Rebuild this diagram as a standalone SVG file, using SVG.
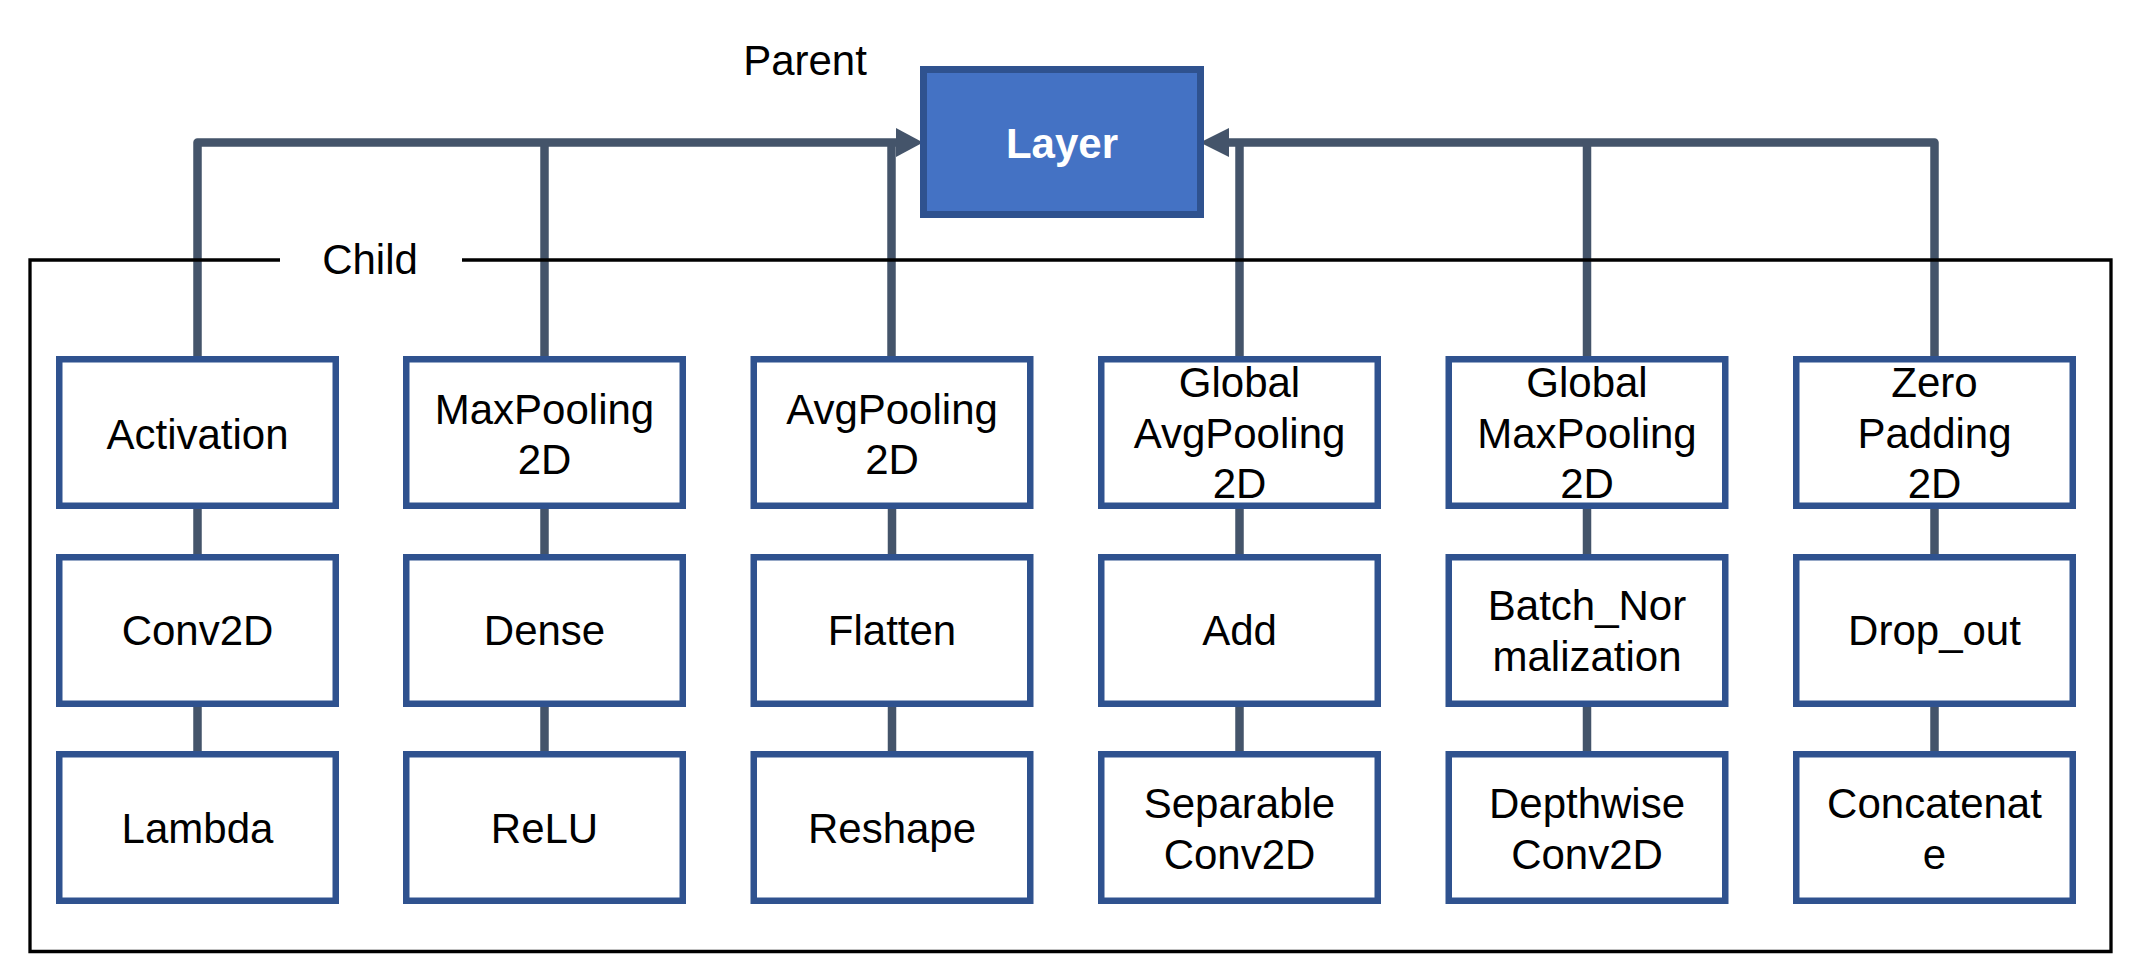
<svg xmlns="http://www.w3.org/2000/svg" width="2138" height="960" viewBox="0 0 2138 960">
<style>
.conn{fill:none;stroke:#44546A;stroke-width:8.5;stroke-linejoin:round}
.head{fill:#44546A}
.frame{fill:none;stroke:#000;stroke-width:3.3}
.box{fill:#fff;stroke:#2F528F;stroke-width:6.5}
.lbl{font-family:"Liberation Sans",Arial,sans-serif;font-size:42px;fill:#000;text-anchor:middle}
.root{fill:#4472C4;stroke:#2F528F;stroke-width:7}
.rootlbl{font-family:"Liberation Sans",Arial,sans-serif;font-size:42px;font-weight:bold;fill:#fff;text-anchor:middle}
</style>
<rect width="2138" height="960" fill="#fff"/>
<g id="connectors">
<path class="conn" d="M197.5 356 V142.5 H900"/>
<path class="conn" d="M544.5 356 V142.5"/>
<path class="conn" d="M891.5 356 V146"/>
<polygon class="head" points="923,142.5 896,128 896,157"/>
<path class="conn" d="M1934.5 356 V142.5 H1225"/>
<path class="conn" d="M1239.5 356 V146"/>
<path class="conn" d="M1587 356 V142.5"/>
<polygon class="head" points="1200,142.5 1229,128 1229,157"/>
<path class="conn" d="M197.5 509 V554 M197.5 707 V751"/>
<path class="conn" d="M544.5 509 V554 M544.5 707 V751"/>
<path class="conn" d="M892 509 V554 M892 707 V751"/>
<path class="conn" d="M1239.5 509 V554 M1239.5 707 V751"/>
<path class="conn" d="M1587 509 V554 M1587 707 V751"/>
<path class="conn" d="M1934.5 509 V554 M1934.5 707 V751"/>
</g>
<g id="frame">
<path class="frame" d="M280 260 H30 V951.5 H2111 V260 H462"/>
<text class="lbl" x="370" y="274">Child</text>
<text class="lbl" x="805" y="75">Parent</text>
</g>
<g id="layer">
<rect class="root" x="923.5" y="69.5" width="277" height="145"/>
<text class="rootlbl" x="1062" y="158">Layer</text>
</g>
<g id="activation"><rect class="box" x="59.25" y="359.25" width="276.5" height="146.5"/><text class="lbl" x="197.5" y="449">Activation</text></g>
<g id="conv2d"><rect class="box" x="59.25" y="557.25" width="276.5" height="146.5"/><text class="lbl" x="197.5" y="645">Conv2D</text></g>
<g id="lambda"><rect class="box" x="59.25" y="754.25" width="276.5" height="146.5"/><text class="lbl" x="197.5" y="843">Lambda</text></g>

<g id="maxpooling2d"><rect class="box" x="406.25" y="359.25" width="276.5" height="146.5"/><text class="lbl" x="544.5" y="424">MaxPooling</text><text class="lbl" x="544.5" y="474">2D</text></g>
<g id="dense"><rect class="box" x="406.25" y="557.25" width="276.5" height="146.5"/><text class="lbl" x="544.5" y="645">Dense</text></g>
<g id="relu"><rect class="box" x="406.25" y="754.25" width="276.5" height="146.5"/><text class="lbl" x="544.5" y="843">ReLU</text></g>

<g id="avgpooling2d"><rect class="box" x="753.75" y="359.25" width="276.5" height="146.5"/><text class="lbl" x="892" y="424">AvgPooling</text><text class="lbl" x="892" y="474">2D</text></g>
<g id="flatten"><rect class="box" x="753.75" y="557.25" width="276.5" height="146.5"/><text class="lbl" x="892" y="645">Flatten</text></g>
<g id="reshape"><rect class="box" x="753.75" y="754.25" width="276.5" height="146.5"/><text class="lbl" x="892" y="843">Reshape</text></g>

<g id="globalavgpooling2d"><rect class="box" x="1101.25" y="359.25" width="276.5" height="146.5"/><text class="lbl" x="1239.5" y="397">Global</text><text class="lbl" x="1239.5" y="448">AvgPooling</text><text class="lbl" x="1239.5" y="498">2D</text></g>
<g id="add"><rect class="box" x="1101.25" y="557.25" width="276.5" height="146.5"/><text class="lbl" x="1239.5" y="645">Add</text></g>
<g id="separableconv2d"><rect class="box" x="1101.25" y="754.25" width="276.5" height="146.5"/><text class="lbl" x="1239.5" y="818">Separable</text><text class="lbl" x="1239.5" y="869">Conv2D</text></g>

<g id="globalmaxpooling2d"><rect class="box" x="1448.75" y="359.25" width="276.5" height="146.5"/><text class="lbl" x="1587" y="397">Global</text><text class="lbl" x="1587" y="448">MaxPooling</text><text class="lbl" x="1587" y="498">2D</text></g>
<g id="batchnormalization"><rect class="box" x="1448.75" y="557.25" width="276.5" height="146.5"/><text class="lbl" x="1587" y="620">Batch_Nor</text><text class="lbl" x="1587" y="671">malization</text></g>
<g id="depthwiseconv2d"><rect class="box" x="1448.75" y="754.25" width="276.5" height="146.5"/><text class="lbl" x="1587" y="818">Depthwise</text><text class="lbl" x="1587" y="869">Conv2D</text></g>

<g id="zeropadding2d"><rect class="box" x="1796.25" y="359.25" width="276.5" height="146.5"/><text class="lbl" x="1934.5" y="397">Zero</text><text class="lbl" x="1934.5" y="448">Padding</text><text class="lbl" x="1934.5" y="498">2D</text></g>
<g id="dropout"><rect class="box" x="1796.25" y="557.25" width="276.5" height="146.5"/><text class="lbl" x="1934.5" y="645">Drop_out</text></g>
<g id="concatenate"><rect class="box" x="1796.25" y="754.25" width="276.5" height="146.5"/><text class="lbl" x="1934.5" y="818">Concatenat</text><text class="lbl" x="1934.5" y="869">e</text></g>
</svg>
